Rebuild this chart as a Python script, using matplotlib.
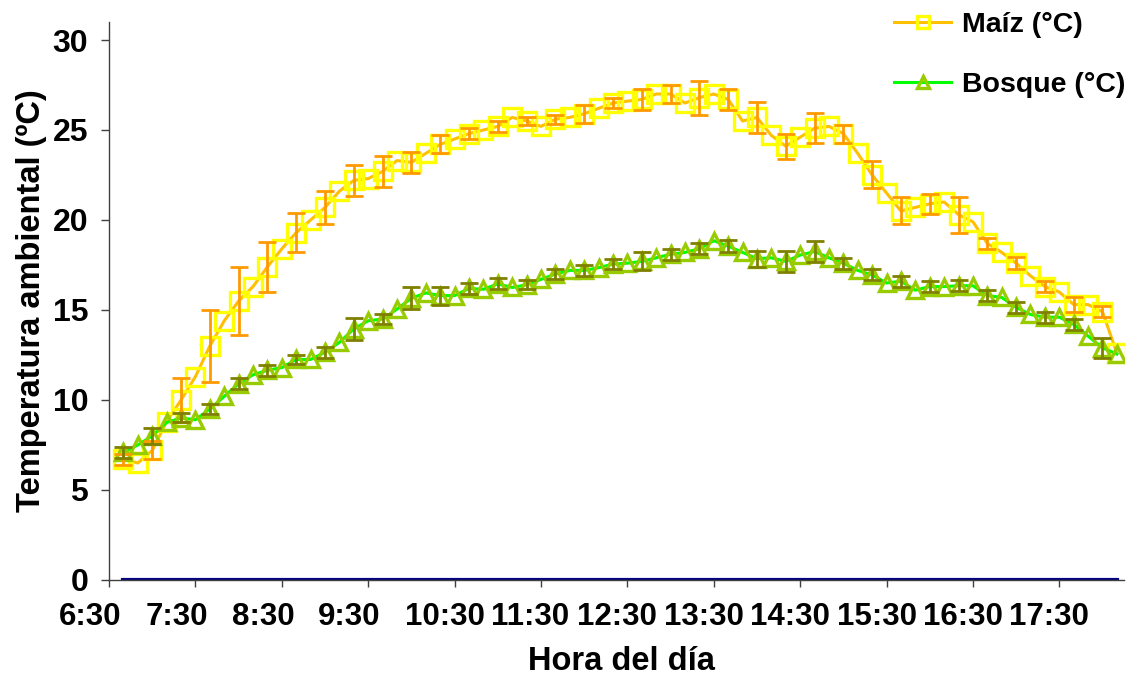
import matplotlib
matplotlib.use("Agg")
import matplotlib.pyplot as plt
import matplotlib.transforms as mtransforms

plt.rcParams['font.family'] = ['Liberation Sans', 'DejaVu Sans']
plt.rcParams['font.weight'] = 'bold'

# minutos desde las 6:30, una lectura cada 10 min (6:40 ... 18:10)
minutos = list(range(10, 710, 10))

maiz = [6.7, 6.5, 7.2, 8.8, 10.0, 11.3, 13.0, 14.4, 15.5, 16.3,
        17.4, 18.4, 19.3, 20.0, 20.7, 21.6, 22.2, 22.3, 22.7, 23.3,
        23.2, 23.7, 24.2, 24.5, 24.8, 25.0, 25.2, 25.7, 25.5, 25.2,
        25.6, 25.7, 25.9, 26.2, 26.5, 26.6, 26.7, 27.0, 27.0, 26.5,
        26.8, 27.0, 26.7, 25.5, 25.7, 24.7, 24.1, 24.6, 25.1, 25.2,
        24.8, 23.7, 22.5, 21.5, 20.5, 20.7, 20.9, 21.0, 20.3, 19.9,
        18.7, 18.2, 17.6, 16.9, 16.3, 16.0, 15.3, 15.3, 14.9, 12.6]

bosque = [7.1, 7.5, 8.0, 8.75, 9.0, 8.9, 9.5, 10.2, 10.9, 11.4,
          11.65, 11.8, 12.25, 12.25, 12.65, 13.2, 13.95, 14.4, 14.5, 15.05,
          15.65, 15.95, 15.8, 15.8, 16.2, 16.15, 16.45, 16.25, 16.4, 16.7,
          17.0, 17.2, 17.2, 17.35, 17.55, 17.6, 17.7, 17.9, 18.1, 18.2,
          18.4, 18.85, 18.55, 18.2, 17.85, 17.9, 17.7, 18.05, 18.25, 17.9,
          17.6, 17.2, 16.95, 16.5, 16.6, 16.1, 16.3, 16.3, 16.35, 16.35,
          15.8, 15.7, 15.15, 14.75, 14.6, 14.6, 14.2, 13.55, 12.9, 12.55]

# error (solo en las lecturas pares: 6:40, 7:00, 7:20, ...)
maiz_err = [0.3, 0.5, 1.2, 2.0, 1.9, 1.4, 1.1, 0.9, 0.85, 0.85,
            0.6, 0.5, 0.3, 0.3, 0.2, 0.25, 0.5, 0.3, 0.6, 0.5,
            0.95, 0.6, 0.85, 0.7, 0.85, 0.5, 0.75, 0.75, 0.55, 1.0,
            0.3, 0.35, 0.3, 0.4, 0.3]
bosque_err = [0.3, 0.45, 0.25, 0.3, 0.3, 0.3, 0.25, 0.3, 0.6, 0.3,
              0.6, 0.5, 0.3, 0.3, 0.25, 0.3, 0.3, 0.3, 0.5, 0.3,
              0.3, 0.35, 0.45, 0.6, 0.6, 0.3, 0.3, 0.3, 0.3, 0.3,
              0.3, 0.3, 0.3, 0.3, 0.55]

cero = [0] * len(minutos)

horas = ["6:30", "7:30", "8:30", "9:30", "10:30", "11:30",
         "12:30", "13:30", "14:30", "15:30", "16:30", "17:30"]
horas_pos = [60 * k for k in range(len(horas))]

fig = plt.figure(figsize=(11.36, 6.77), dpi=100)
ax = fig.add_axes([0.0960, 0.1433, 0.8935, 0.8242])

ax.plot(minutos, cero, color='#000080', lw=3, zorder=2)

ax.plot(minutos, maiz, color='#FFC000', lw=2.2, marker='s', ms=12.5,
        mfc='none', mec='#FFFF00', mew=2.4, label='Maíz (°C)', zorder=3)
ax.errorbar(minutos[::2], maiz[::2], yerr=maiz_err, fmt='none',
            ecolor='#FF9900', elinewidth=2, capsize=6.5, capthick=2, zorder=4)

ax.plot(minutos, bosque, color='#00FF00', lw=2.2, marker='^', ms=12,
        mfc='none', mec='#99CC00', mew=2.4, label='Bosque (°C)', zorder=3)
ax.errorbar(minutos[::2], bosque[::2], yerr=bosque_err, fmt='none',
            ecolor='#808000', elinewidth=2, capsize=6.5, capthick=2, zorder=4)

ax.set_xlim(0, 705)
ax.set_ylim(0, 31)
ax.set_yticks([0, 5, 10, 15, 20, 25, 30])
ax.set_xticks(horas_pos)
ax.set_xticklabels(horas, ha='left')

for s in ['top', 'right']:
    ax.spines[s].set_visible(False)
for s in ['left', 'bottom']:
    ax.spines[s].set_color('#404040')
    ax.spines[s].set_linewidth(1.0)

ax.tick_params(axis='y', direction='out', length=6, width=1, color='#404040',
               labelsize=23, pad=9)
ax.tick_params(axis='x', direction='out', length=5, width=1, color='#404040',
               labelsize=22.5, pad=11)

# etiquetas del eje x empiezan unos 50 px antes de cada marca
desplaza = mtransforms.ScaledTranslation(-50 / 100, 0, fig.dpi_scale_trans)
for lab in ax.get_xticklabels():
    lab.set_transform(lab.get_transform() + desplaza)

ax.set_xlabel("Hora del día", fontsize=23.5, fontweight='bold')
ax.set_ylabel("Temperatura ambiental (ºC)", fontsize=23.5, fontweight='bold')
ax.xaxis.set_label_coords(0.505, -0.118)
ax.yaxis.set_label_coords(-0.061, 0.5)

fig.legend(loc='upper left', bbox_to_anchor=(0.787, 0.983), frameon=False,
           fontsize=20.5, borderpad=0, borderaxespad=0, labelspacing=1.2,
           handlelength=2.0, handletextpad=0.4, markerscale=0.7)

fig.savefig("out.png", dpi=100)
